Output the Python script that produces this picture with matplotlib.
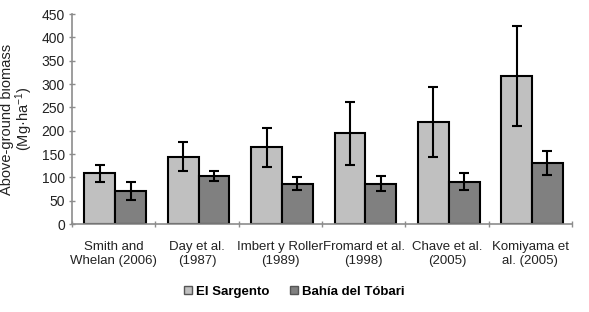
import numpy as np
import matplotlib
matplotlib.use("Agg")
import matplotlib.pyplot as plt
from matplotlib.patches import Patch

# ============================================================
# DATA
# ============================================================

studies = [
    "Smith and\nWhelan (2006)",
    "Day et al.\n(1987)",
    "Imbert y Roller\n(1989)",
    "Fromard et al.\n(1998)",
    "Chave et al.\n(2005)",
    "Komiyama et\nal. (2005)",
]
sargento = [109, 144, 164, 194, 219, 317]
sargento_err = [18, 31, 42, 68, 75, 107]
tobari = [71, 103, 86, 86, 91, 131]
tobari_err = [20, 11, 14, 16, 19, 25]

series_names = ["El Sargento", "Bahía del Tóbari"]

# ============================================================
# STYLE
# ============================================================

plt.rcParams["font.family"] = ["Liberation Sans", "DejaVu Sans"]
plt.rcParams["mathtext.fontset"] = "custom"
plt.rcParams["mathtext.rm"] = "Liberation Sans"
plt.rcParams["mathtext.it"] = "Liberation Sans"

LIGHT = "#c0c0c0"
DARK = "#808080"
AXIS = "#8c8c8c"

fig = plt.figure(figsize=(5.89, 3.12), dpi=100)
ax = fig.add_axes([0.1222, 0.282, 0.849, 0.673])

x = np.arange(len(studies))
w = 0.37
err_kw = dict(ecolor="black", elinewidth=1.5, capsize=3.5, capthick=1.5)

ax.bar(x - w / 2 + 0.02, sargento, w, yerr=sargento_err, color=LIGHT,
       edgecolor="black", linewidth=1.5, error_kw=err_kw, zorder=2)
ax.bar(x + w / 2 + 0.02, tobari, w, yerr=tobari_err, color=DARK,
       edgecolor="black", linewidth=1.5, error_kw=err_kw, zorder=2)

ax.set_xlim(-0.5, len(studies) - 0.5)
ax.set_ylim(0, 450)
ax.set_yticks(np.arange(0, 451, 50))

# category boundaries carry the x ticks, labels sit at the centres
ax.set_xticks(np.arange(-0.5, len(studies), 1.0))
ax.set_xticklabels([])
ax.set_xticks(x, minor=True)
ax.set_xticklabels(studies, minor=True, fontsize=9.5, linespacing=1.25,
                   color="#222222")
ax.tick_params(axis="x", which="minor", length=0, pad=12)
ax.tick_params(axis="x", which="major", length=4, direction="inout",
               color=AXIS, width=1)
ax.tick_params(axis="y", length=4, direction="inout", color=AXIS, width=1,
               labelsize=10, pad=3, labelcolor="#222222")

for side in ["top", "right"]:
    ax.spines[side].set_visible(False)
for side in ["left", "bottom"]:
    ax.spines[side].set_color(AXIS)
    ax.spines[side].set_linewidth(1.2)

ax.set_ylabel("Above-ground biomass\n(Mg·ha$^{-1}$)", fontsize=10.5,
              linespacing=0.95, labelpad=5, color="#222222")

handles = [
    Patch(facecolor=LIGHT, edgecolor="#555555", linewidth=1.0),
    Patch(facecolor=DARK, edgecolor="#555555", linewidth=1.0),
]
fig.legend(handles, series_names, loc="center", bbox_to_anchor=(0.5, 0.065),
           ncol=2, frameon=False, handlelength=0.6, handleheight=0.6,
           handletextpad=0.3, columnspacing=1.6,
           prop={"family": ["Liberation Sans"], "weight": "bold", "size": 9.5})

fig.savefig("out.png", dpi=100)
plt.close(fig)
